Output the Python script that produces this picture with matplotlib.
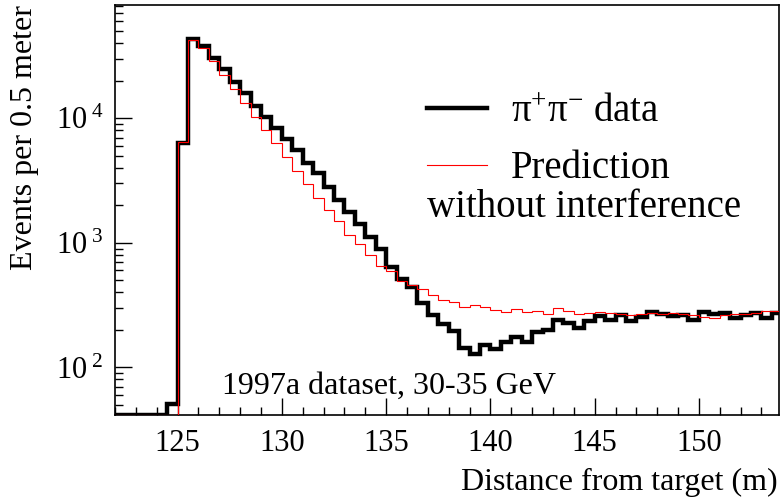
# histogram of decay distance, data vs prediction (log scale)
import numpy as np
import matplotlib.pyplot as plt
from matplotlib.ticker import FuncFormatter, MultipleLocator, LogLocator
from matplotlib.lines import Line2D

plt.rcParams['font.family'] = ['Liberation Serif', 'DejaVu Serif']
plt.rcParams['mathtext.fontset'] = 'custom'
plt.rcParams['mathtext.rm'] = 'Liberation Serif'
plt.rcParams['mathtext.it'] = 'Liberation Serif:italic'

# bins of 0.5 m from 122 m to 154 m
bin_lo = 122.0
bin_hi = 154.0
bin_width = 0.5

# pi+ pi- data, events per bin
data_counts = [
    0, 0, 0, 0, 0, 51,
    6380, 43600, 37800, 30500, 24600, 19600, 15970, 12480, 10240, 8420,
    6870, 5580, 4330, 3600, 2810, 2190, 1770, 1425, 1113, 898,
    639, 515, 441, 330, 262, 224, 195, 144, 127, 152,
    140, 160, 177, 160, 192, 201, 242, 227, 208, 234,
    257, 239, 262, 234, 254, 278, 270, 257, 262, 242,
    277, 267, 273, 249, 262, 273, 249, 273,
]

# prediction without interference
pred_counts = [
    0, 0, 0, 0, 0, 0,
    6500, 42500, 36300, 28700, 22100, 17100, 13270, 10240, 8010, 6270,
    4860, 3760, 2985, 2305, 1823, 1496, 1164, 973, 794, 648,
    590, 493, 461, 425, 384, 350, 335, 305, 315, 305,
    287, 278, 292, 277, 282, 270, 300, 285, 270, 273,
    276, 275, 270, 262, 267, 273, 267, 273, 267, 265,
    254, 251, 265, 267, 270, 273, 284, 282,
]

edges = np.arange(bin_lo, bin_hi + bin_width / 2, bin_width)
y_min, y_max = 41.5, 8.1e4

fig = plt.figure(figsize=(7.81, 5), dpi=100)
ax = fig.add_axes([115 / 781, 85 / 500, 664 / 781, 410 / 500])

# empty bins sit on the bottom of the frame, like ROOT does
ax.stairs(np.maximum(data_counts, y_min), edges, color='black', lw=3.2, zorder=2)
ax.stairs(np.maximum(pred_counts, y_min), edges, color='red', lw=0.8, zorder=3)

ax.set_yscale('log')
ax.set_xlim(122, 153.84)
ax.set_ylim(y_min, y_max)

# ticks inside, left and bottom only
ax.xaxis.set_major_locator(MultipleLocator(5))
ax.xaxis.set_minor_locator(MultipleLocator(1))
ax.yaxis.set_major_locator(LogLocator(base=10))
ax.yaxis.set_minor_locator(LogLocator(base=10, subs=np.arange(2, 10)))
ax.yaxis.set_major_formatter(FuncFormatter(lambda v, p: r'$\mathregular{10^{\ %d}}$' % round(np.log10(v))))
ax.yaxis.set_minor_formatter(FuncFormatter(lambda v, p: ''))
ax.tick_params(which='both', direction='in', top=False, right=False, width=1)
ax.tick_params(which='major', length=12)
ax.tick_params(which='minor', length=6)
ax.tick_params(axis='x', labelsize=22, pad=10)
ax.tick_params(axis='y', labelsize=22, pad=8)
for s in ax.spines.values():
    s.set_linewidth(1.2)

# axis titles at the far ends
fig.text(778 / 781, 1 - 482 / 500, 'Distance from target (m)', ha='right', va='center', fontsize=23)
fig.text(25 / 781, 1 - 5 / 500, 'Events per 0.5 meter', rotation=90, ha='center', va='top', fontsize=23)

ax.text(0.161, 0.0707, '1997a dataset, 30-35 GeV', transform=ax.transAxes,
        ha='left', va='center', fontsize=23)

handles = [Line2D([], [], color='black', lw=3.2), Line2D([], [], color='red', lw=0.8)]
labels = [r'$\mathregular{\pi^{+}\pi^{-}}$ data', 'Prediction']
ax.legend(handles, labels, loc='upper left', bbox_to_anchor=(0.470, 0.783), frameon=False,
          fontsize=28, handlelength=1.55, handletextpad=0.6, labelspacing=0.5,
          borderpad=0, borderaxespad=0)
ax.text(0.470, 0.507, 'without interference', transform=ax.transAxes,
        ha='left', va='center', fontsize=28)

fig.savefig('out.png', dpi=100)
